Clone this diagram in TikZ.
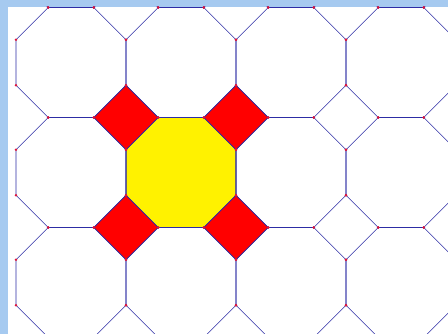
\documentclass[tikz,border=0pt]{standalone}
\definecolor{edgeblue}{RGB}{45,45,165}
\definecolor{frameblue}{RGB}{166,202,240}
\definecolor{dotred}{RGB}{220,20,60}
\begin{document}
\begin{tikzpicture}[x=1pt,y=-1pt,
  edge/.style={draw=edgeblue,line width=0.6pt,line join=round},
  redsq/.style={fill=red,draw=edgeblue,line width=0.6pt},
  yelloct/.style={fill=yellow,draw=edgeblue,line width=0.6pt}]
\useasboundingbox (0,0) rectangle (448,334);
\fill[frameblue] (0,0) rectangle (448,334);
\fill[white] (8,7) rectangle (448,334);
\def\h{55}\def\q{22.75}\def\d{32.25}
\begin{scope}
\clip (8,7) rectangle (448,334);
% yellow octagon
\begin{scope}[shift={(181,172.5)}]
  \path[yelloct] (-\q,-\h) -- (\q,-\h) -- (\h,-\q) -- (\h,\q) -- (\q,\h) -- (-\q,\h) -- (-\h,\q) -- (-\h,-\q) -- cycle;
\end{scope}
% red squares
\foreach \sx/\sy in {126/117.5,236/117.5,126/227.5,236/227.5}{
  \begin{scope}[shift={(\sx,\sy)}]
    \path[redsq] (0,-\d) -- (\d,0) -- (0,\d) -- (-\d,0) -- cycle;
  \end{scope}
}
% tiling edges
\foreach \i in {0,...,4}{
  \foreach \j in {-1,...,3}{
    \begin{scope}[shift={({71+110*\i},{62.5+110*\j})}]
      \draw[edge] (-\q,-\h) -- (\q,-\h) -- (\h,-\q) -- (\h,\q) -- (\q,\h) -- (-\q,\h) -- (-\h,\q) -- (-\h,-\q) -- cycle;
      \foreach \vx/\vy in {-\q/-\h,\q/-\h,\h/-\q,\h/\q,\q/\h,-\q/\h,-\h/\q,-\h/-\q}{
        \fill[dotred] (\vx,\vy) circle (1.3);
      }
    \end{scope}
  }
}
\end{scope}
\end{tikzpicture}
\end{document}
